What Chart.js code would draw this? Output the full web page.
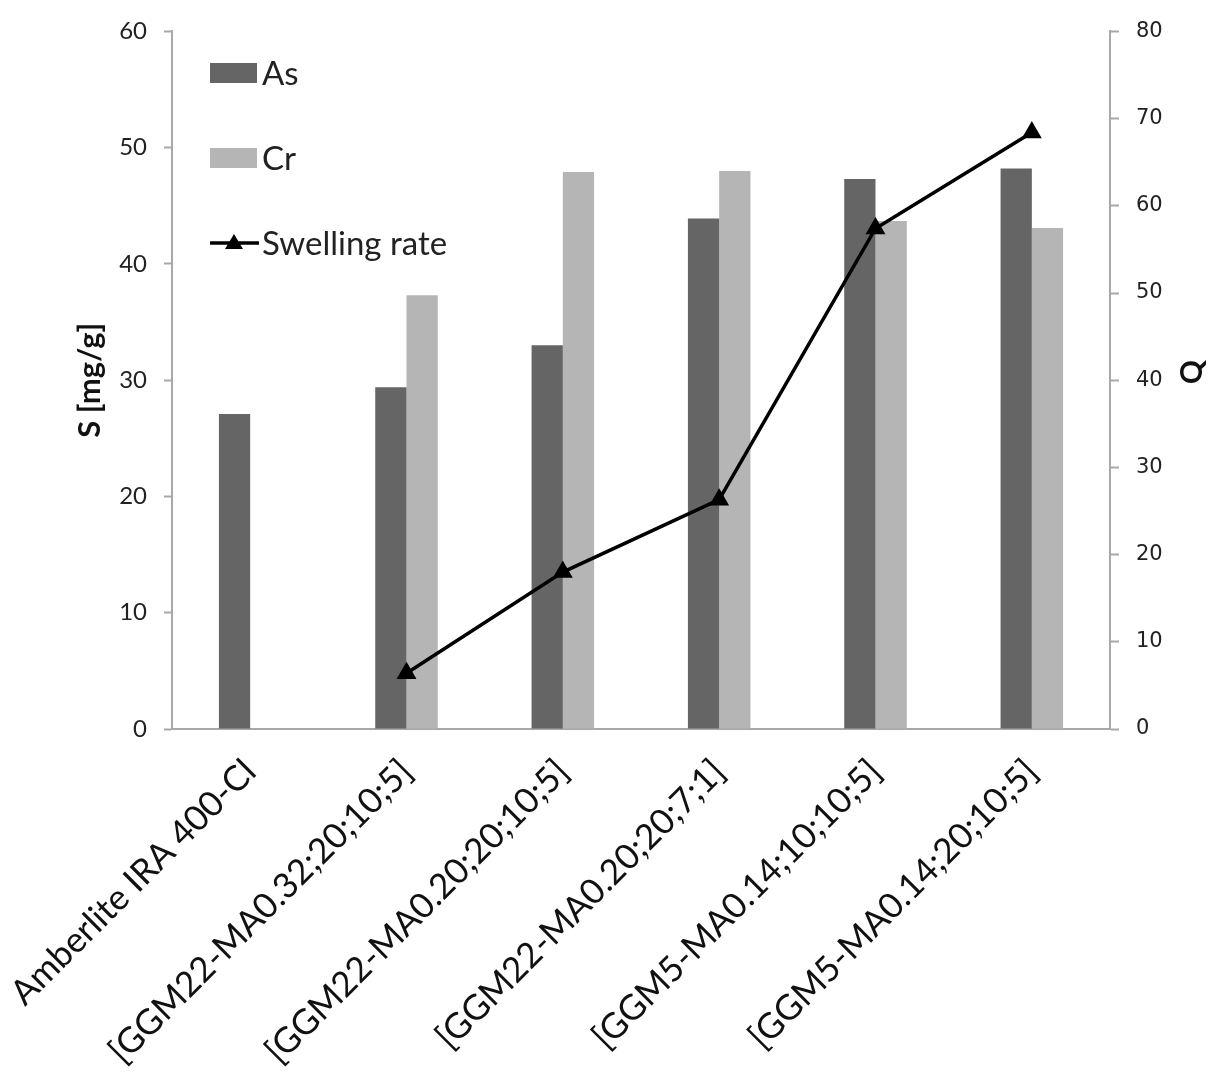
<!DOCTYPE html>
<html>
<head>
<meta charset="utf-8">
<title>Sorption and swelling rate</title>
<script src="https://cdn.jsdelivr.net/npm/chart.js@4/dist/chart.umd.min.js"></script>
<style>
  html, body { margin: 0; padding: 0; background: #fff; }
  #wrap { width: 1211px; height: 1076px; }
</style>
</head>
<body>
<div id="wrap"><canvas id="swellChart" width="1211" height="1076"></canvas></div>
<script>
// values
const categories = [
  "Amberlite IRA 400-Cl",
  "[GGM22-MA0.32;20;10;5]",
  "[GGM22-MA0.20;20;10;5]",
  "[GGM22-MA0.20;20;7;1]",
  "[GGM5-MA0.14;10;10;5]",
  "[GGM5-MA0.14;20;10;5]"
];
const asValues = [27.1, 29.4, 33.0, 43.9, 47.3, 48.2];
const crValues = [null, 37.3, 47.9, 48.0, 43.7, 43.1];
const swellingRate = [null, 6.4, 18.0, 26.3, 57.4, 68.4];

const leftAxisMax = 60;
const rightAxisMax = 80;
const tickStep = 10;

const FONT = "Lato, Carlito, Calibri, sans-serif";
const AXIS_GREY = "#a8a8a8";

// legend drawn inside the plot, stacked vertically like the original
const insideLegend = {
  id: "insideLegend",
  afterDraw(chart) {
    const ctx = chart.ctx;
    const rows = [73, 158, 243];
    ctx.save();
    ctx.font = "33px " + FONT;
    ctx.textBaseline = "middle";
    chart.data.datasets.forEach((ds, i) => {
      const y = rows[i];
      if (ds.type === "line") {
        ctx.strokeStyle = ds.borderColor;
        ctx.lineWidth = 3.5;
        ctx.beginPath();
        ctx.moveTo(210, y);
        ctx.lineTo(259, y);
        ctx.stroke();
        ctx.fillStyle = ds.pointBackgroundColor;
        ctx.beginPath();
        ctx.moveTo(234, y - 9);
        ctx.lineTo(243, y + 6);
        ctx.lineTo(225, y + 6);
        ctx.closePath();
        ctx.fill();
      } else {
        ctx.fillStyle = ds.backgroundColor;
        ctx.fillRect(210, y - 10, 47, 20);
      }
      ctx.fillStyle = "#222";
      ctx.fillText(ds.label, 262, y + 1);
    });
    ctx.restore();
  }
};

// right axis title, turned the same way as the left one
const rightTitle = {
  id: "rightTitle",
  afterDraw(chart) {
    const ctx = chart.ctx;
    const area = chart.chartArea;
    ctx.save();
    ctx.translate(1192, (area.top + area.bottom) / 2 - 8);
    ctx.rotate(-Math.PI / 2);
    ctx.font = "bold 30px " + FONT;
    ctx.fillStyle = "#111";
    ctx.textAlign = "center";
    ctx.textBaseline = "middle";
    ctx.fillText("Q", 0, 0);
    ctx.restore();
  }
};

const ctx = document.getElementById("swellChart").getContext("2d");

new Chart(ctx, {
  type: "bar",
  data: {
    labels: categories,
    datasets: [
      {
        label: "As",
        data: asValues,
        backgroundColor: "#656565",
        barPercentage: 1.0,
        categoryPercentage: 0.4,
        yAxisID: "y",
        order: 1
      },
      {
        label: "Cr",
        data: crValues,
        backgroundColor: "#b5b5b5",
        barPercentage: 1.0,
        categoryPercentage: 0.4,
        yAxisID: "y",
        order: 1
      },
      {
        type: "line",
        label: "Swelling rate",
        data: swellingRate,
        borderColor: "#000",
        borderWidth: 3.5,
        pointStyle: "triangle",
        pointRadius: 8,
        pointBackgroundColor: "#000",
        pointBorderColor: "#000",
        tension: 0,
        yAxisID: "y1",
        order: 0
      }
    ]
  },
  options: {
    responsive: false,
    animation: false,
    devicePixelRatio: 1,
    layout: {
      autoPadding: false,
      padding: { top: 28, left: 0, right: 0, bottom: 0 }
    },
    plugins: {
      legend: { display: false },
      tooltip: { enabled: false }
    },
    scales: {
      x: {
        grid: { display: false, drawTicks: false },
        border: { display: true, color: AXIS_GREY, width: 2 },
        ticks: {
          color: "#111",
          font: { family: FONT, size: 35 },
          minRotation: 45,
          maxRotation: 45,
          padding: 22,
          autoSkip: false
        },
        afterFit(scale) {
          scale.height = 347;
          // long rotated labels should not push the plot to the right
          scale.paddingLeft = 0;
          scale.paddingRight = 0;
        }
      },
      y: {
        position: "left",
        min: 0,
        max: leftAxisMax,
        grid: {
          drawOnChartArea: false,
          drawTicks: true,
          tickLength: 8,
          tickColor: AXIS_GREY,
          tickWidth: 2
        },
        border: { display: true, color: AXIS_GREY, width: 2 },
        ticks: {
          stepSize: tickStep,
          color: "#222",
          font: { family: FONT, size: 24 },
          padding: 17
        },
        title: {
          display: true,
          text: "S [mg/g]",
          color: "#111",
          font: { family: FONT, size: 31, weight: "bold" },
          padding: { top: 71, bottom: 0 }
        },
        afterFit(scale) { scale.width = 172; }
      },
      y1: {
        position: "right",
        min: 0,
        max: rightAxisMax,
        grid: {
          drawOnChartArea: false,
          drawTicks: true,
          tickLength: 9,
          tickColor: AXIS_GREY,
          tickWidth: 2
        },
        border: { display: true, color: AXIS_GREY, width: 2 },
        ticks: {
          stepSize: tickStep,
          color: "#222",
          font: { family: "'DejaVu Sans', Verdana, sans-serif", size: 21 },
          padding: 17
        },
        afterFit(scale) { scale.width = 101; }
      }
    }
  },
  plugins: [insideLegend, rightTitle]
});
</script>
</body>
</html>
